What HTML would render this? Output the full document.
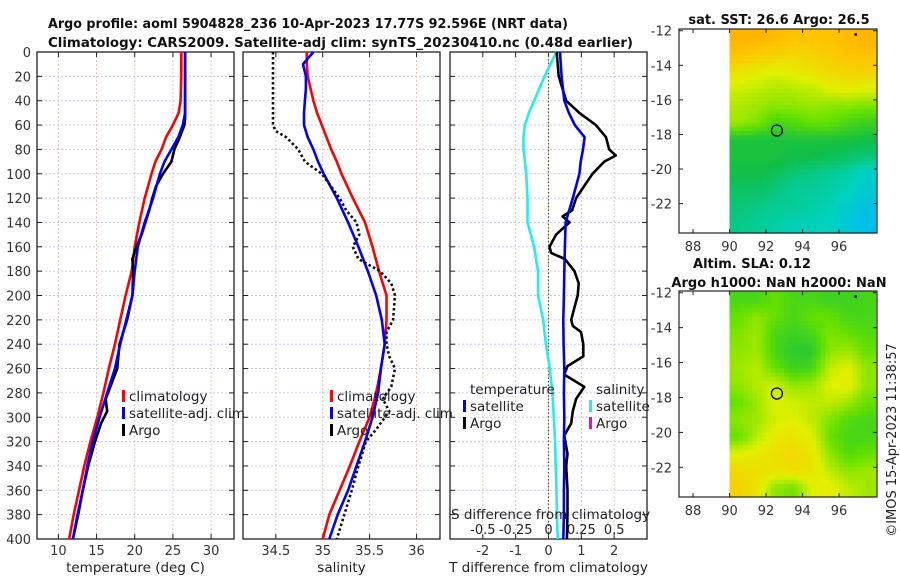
<!DOCTYPE html>
<html><head><meta charset="utf-8"><style>
html,body{margin:0;padding:0;background:#fff;}
svg{display:block;font-family:"DejaVu Sans","Liberation Sans",sans-serif;}
</style></head><body>
<svg id="chart" width="900" height="580" viewBox="0 0 900 580" xmlns="http://www.w3.org/2000/svg">
<text x="48" y="28" font-size="13.5" font-weight="bold" fill="#111" textLength="520" lengthAdjust="spacingAndGlyphs">Argo profile: aoml 5904828_236 10-Apr-2023 17.77S 92.596E (NRT data)</text>
<text x="48" y="47" font-size="13.5" font-weight="bold" fill="#111" textLength="585" lengthAdjust="spacingAndGlyphs">Climatology: CARS2009. Satellite-adj clim: synTS_20230410.nc (0.48d earlier)</text>
<g id="plots"></g>
<text x="779" y="24" font-size="13" font-weight="bold" text-anchor="middle" fill="#111">sat. SST: 26.6 Argo: 26.5</text>
<text x="752" y="268" font-size="13" font-weight="bold" text-anchor="middle" fill="#111">Altim. SLA: 0.12</text>
<text x="779" y="287" font-size="13" font-weight="bold" text-anchor="middle" fill="#111">Argo h1000: NaN h2000: NaN</text>
<text transform="translate(896,440) rotate(-90)" font-size="13" text-anchor="middle" fill="#222">©IMOS 15-Apr-2023 11:38:57</text>
</svg>
<script>
// ---- data ----
const depths = [0,10,20,30,40,50,60,70,80,90,100,120,140,160,180,200,220,240,260,280,300,320,340,360,380,400];
const tempClim = [26.1,26.1,26.1,26.05,26.0,25.75,25.0,24.1,23.5,22.7,22.2,21.3,20.6,20.0,19.6,18.8,18.1,17.4,16.6,15.9,15.1,14.2,13.4,12.7,12.0,11.4];
const tempSat  = [26.6,26.6,26.6,26.6,26.6,26.6,26.3,25.7,24.8,23.9,23.3,22.4,21.3,20.4,20.0,19.7,18.9,18.1,17.4,16.4,15.4,14.5,13.8,13.2,12.5,11.9];
const argoDepths = [0,10,20,30,40,50,55,60,70,80,90,100,110,120,130,140,150,160,170,180,200,220,240,260,275,285,295,305,320,340,360,380,400];
const tempArgo = [26.6,26.6,26.6,26.6,26.6,26.6,26.6,26.5,25.9,25.2,24.8,23.7,22.8,22.3,21.9,21.4,20.9,20.2,19.7,19.8,19.7,19.0,18.0,17.7,16.8,16.2,16.4,15.6,14.8,13.9,13.2,12.6,11.9];
const salClim = [34.83,34.83,34.84,34.87,34.90,34.94,34.99,35.04,35.09,35.15,35.20,35.32,35.45,35.53,35.60,35.68,35.68,35.66,35.62,35.57,35.50,35.39,35.29,35.18,35.07,35.00];
const salSat  = [34.90,34.79,34.82,34.82,34.81,34.80,34.80,34.84,34.90,34.95,35.01,35.15,35.27,35.38,35.48,35.57,35.63,35.66,35.62,35.59,35.53,35.45,35.36,35.27,35.16,35.07];
const salArgoDepths = [0,20,40,60,65,70,80,90,100,120,130,140,150,160,170,180,190,200,220,230,240,250,260,275,285,295,310,320,340,360,380,400];
const salArgo = [34.47,34.47,34.47,34.47,34.50,34.61,34.74,34.81,34.99,35.18,35.25,35.36,35.39,35.32,35.38,35.61,35.73,35.77,35.75,35.68,35.68,35.71,35.77,35.73,35.64,35.71,35.57,35.46,35.38,35.31,35.23,35.15];
const diffDepths = [0,20,40,50,60,70,80,90,100,120,140,160,180,200,220,240,260,280,300,320,340,360,380,400];
const tDiffSat = [0.35,0.40,0.48,0.62,0.80,1.10,1.05,0.98,0.94,0.74,0.52,0.50,0.48,0.47,0.45,0.46,0.48,0.47,0.48,0.47,0.48,0.47,0.47,0.45];
const sDiffSat = [0.06,-0.03,-0.11,-0.15,-0.18,-0.19,-0.19,-0.18,-0.17,-0.16,-0.16,-0.11,-0.08,-0.08,-0.04,-0.02,0.01,0.03,0.04,0.05,0.055,0.06,0.065,0.07];
const argoDiffDepths = [0,20,40,50,60,70,80,85,90,100,110,120,130,135,140,150,160,165,170,180,190,200,210,220,225,230,240,250,258,265,275,285,295,305,315,330,340,360,380,400];
const tDiffArgo = [0.25,0.31,0.54,0.94,1.44,1.75,1.85,2.05,1.70,1.34,1.09,0.84,0.72,0.43,0.64,0.23,0.03,0.08,0.50,0.79,0.92,0.89,0.79,0.69,0.74,0.99,1.06,1.06,0.58,0.48,1.09,0.84,0.74,0.69,0.48,0.58,0.54,0.58,0.58,0.56];
const depthTicks = [0,20,40,60,80,100,120,140,160,180,200,220,240,260,280,300,320,340,360,380,400];
const tempTicks = [10,15,20,25,30];
const salTicks = [34.5,35,35.5,36];
const tDiffTicks = [-2,-1,0,1,2];
const sDiffTicks = [-0.5,-0.25,0,0.25,0.5];
const sDiffTickLabels = ["-0.5","-0.25","0","0.25","0.5"];
const mapLonTicks = [88,90,92,94,96];
const mapLatTicks = [-12,-14,-16,-18,-20,-22];
const argoLon = 92.596, argoLat = -17.77;
const sstGrid = [
[0.90,0.90,0.88,0.85,0.85,0.85,0.88,0.90],
[0.85,0.82,0.80,0.78,0.80,0.82,0.85,0.85],
[0.75,0.72,0.70,0.72,0.75,0.78,0.80,0.80],
[0.68,0.66,0.64,0.65,0.66,0.70,0.72,0.70],
[0.64,0.62,0.60,0.60,0.62,0.60,0.60,0.58],
[0.62,0.58,0.50,0.52,0.55,0.55,0.50,0.48],
[0.42,0.42,0.42,0.42,0.42,0.42,0.42,0.40],
[0.42,0.42,0.42,0.40,0.40,0.38,0.36,0.34],
[0.40,0.40,0.38,0.34,0.32,0.30,0.28,0.22],
[0.36,0.36,0.34,0.30,0.30,0.28,0.26,0.18],
[0.34,0.32,0.30,0.30,0.28,0.26,0.20,0.10],
[0.32,0.30,0.28,0.26,0.26,0.24,0.16,0.08]];
const slaGrid = [
[0.50,0.50,0.55,0.50,0.50,0.48,0.48,0.50],
[0.55,0.60,0.55,0.50,0.55,0.55,0.50,0.50],
[0.58,0.62,0.50,0.48,0.50,0.58,0.55,0.52],
[0.60,0.62,0.50,0.45,0.45,0.60,0.62,0.55],
[0.62,0.65,0.55,0.48,0.50,0.66,0.70,0.60],
[0.60,0.65,0.68,0.60,0.62,0.70,0.72,0.60],
[0.55,0.62,0.70,0.68,0.66,0.66,0.62,0.55],
[0.60,0.62,0.68,0.70,0.66,0.58,0.52,0.50],
[0.55,0.65,0.72,0.74,0.70,0.55,0.50,0.50],
[0.70,0.72,0.76,0.78,0.74,0.60,0.52,0.55],
[0.78,0.76,0.74,0.76,0.74,0.66,0.60,0.62],
[0.80,0.74,0.60,0.56,0.70,0.72,0.66,0.62]];

// ---- helpers ----
const NS = "http://www.w3.org/2000/svg";
const root = document.getElementById('plots');
function mk(tag, attrs, parent){const e=document.createElementNS(NS,tag);for(const k in attrs)e.setAttribute(k,attrs[k]);(parent||root).appendChild(e);return e;}
const top0=52, bot0=539;
const yD = d => top0 + (d/400)*(bot0-top0);
function lin(d0,d1,r0,r1){return v=>r0+(v-d0)/(d1-d0)*(r1-r0);}

function panel(name,x0,x1,xScale,xticks,xlabels,xtitle,showY){
  const g=mk('g',{});
  
  
  depthTicks.forEach(d=>{ if(d>0&&d<400){const l=mk('line',{x1:x0,x2:x1,y1:yD(d),y2:yD(d),stroke:'#c9cbe8','stroke-width':1,'stroke-dasharray':'2 2'},g);
     }
    mk('line',{x1:x0,x2:x0+5,y1:yD(d),y2:yD(d),stroke:'#222'},g);
    mk('line',{x1:x1-5,x2:x1,y1:yD(d),y2:yD(d),stroke:'#222'},g);
    if(showY){const t=mk('text',{x:x0-6,y:yD(d)+5,'font-size':13,'text-anchor':'end',fill:'#333'},g);t.textContent=d;
       }
  });
  xticks.forEach((v,i)=>{const x=xScale(v);
    const l=mk('line',{x1:x,x2:x,y1:top0,y2:bot0,stroke:'#d8c9c0','stroke-width':1,'stroke-dasharray':'2 2'},g);
     
    mk('line',{x1:x,x2:x,y1:bot0,y2:bot0-5,stroke:'#222'},g);
    mk('line',{x1:x,x2:x,y1:top0,y2:top0+5,stroke:'#222'},g);
    const t=mk('text',{x:x,y:555,'font-size':13,'text-anchor':'middle',fill:'#333'},g);t.textContent=xlabels[i];
     
  });
  const b=mk('rect',{x:x0,y:top0,width:x1-x0,height:bot0-top0,fill:'none',stroke:'#222','stroke-width':1.3},g);
   
  const tt=mk('text',{x:(x0+x1)/2,y:572,'font-size':13.5,'text-anchor':'middle',fill:'#222'},g);tt.textContent=xtitle;
   
  return g;
}
function series(g,name,ds,vs,xs,color,dash){
  const pts=ds.map((d,i)=>xs(vs[i]).toFixed(1)+','+yD(d).toFixed(1)).join(' ');
  const p=mk('polyline',{points:pts,fill:'none',stroke:color,'stroke-width':2.6,'stroke-linejoin':'round'},g);
  if(dash){p.setAttribute('stroke-dasharray',dash);}
  
  
}
function legend(g,x,y,items){
  items.forEach((it,i)=>{
    const yy=y+i*17;
    if(it[1]){const r=mk('rect',{x:x,y:yy-11,width:3,height:12,fill:it[1]},g);
       }
    const t=mk('text',{x:x+7,y:yy,'font-size':13.5,fill:'#222'},g);t.textContent=it[0];
     
  });
}

// Panel 1: temperature
const xT=lin(7.2,33,37,234);
const g1=panel('temperature',37,234,xT,tempTicks,tempTicks.map(String),'temperature (deg C)',true);
series(g1,'temp-climatology-line',depths,tempClim,xT,'#ff0000');
series(g1,'temp-argo-line',argoDepths,tempArgo,xT,'#000000');
series(g1,'temp-satellite-line',depths,tempSat,xT,'#0000ff');
legend(g1,122,401,[['climatology','#ff0000'],['satellite-adj. clim','#0000ff'],['Argo','#000']]);

// Panel 2: salinity
const xS=lin(34.15,36.25,243,440);
const g2=panel('salinity',243,440,xS,salTicks,['34.5','35','35.5','36'],'salinity',false);
series(g2,'sal-climatology-line',depths,salClim,xS,'#ff0000');
series(g2,'sal-satellite-line',depths,salSat,xS,'#0000ff');
series(g2,'sal-argo-line',salArgoDepths,salArgo,xS,'#111',"2.5 2.5");
legend(g2,330,401,[['climatology','#ff0000'],['satellite-adj. clim','#0000ff'],['Argo','#000']]);

// Panel 3: differences
const xTD=lin(-3,3,450,647);
const xSD=lin(-0.75,0.75,450,647);
const g3=panel('difference',450,647,xTD,tDiffTicks,tDiffTicks.map(String),'T difference from climatology',false);
const zl=mk('line',{x1:xTD(0),x2:xTD(0),y1:top0,y2:bot0,stroke:'#555533','stroke-width':1.2,'stroke-dasharray':'1.5 2'},g3);
 
series(g3,'s-diff-satellite-line',diffDepths,sDiffSat,xSD,'#22eeee');
series(g3,'t-diff-argo-line',argoDiffDepths,tDiffArgo,xTD,'#000');
series(g3,'t-diff-satellite-line',diffDepths,tDiffSat,xTD,'#0000ee');
legend(g3,463,394,[['temperature',null],['satellite','#0000ff'],['Argo','#000']]);
legend(g3,589,394,[['salinity',null],['satellite','#22eeee'],['Argo','#ff00cc']]);
const sdt=mk('text',{x:451,y:519,'font-size':13.5,fill:'#222'},g3);sdt.textContent='S difference from climatology';
 
sDiffTicks.forEach((v,i)=>{const t=mk('text',{x:xSD(v),y:534,'font-size':13,'text-anchor':'middle',fill:'#222'},g3);t.textContent=sDiffTickLabels[i];
   });

// Maps
const stops=[[0,[0,180,255]],[0.25,[0,210,190]],[0.4,[16,190,70]],[0.55,[100,225,0]],[0.7,[225,240,0]],[0.85,[255,195,0]],[1,[255,150,0]]];
function cmap(v){for(let i=1;i<stops.length;i++){if(v<=stops[i][0]){const a=stops[i-1],b=stops[i],t=(v-a[0])/(b[0]-a[0]);
  return 'rgb('+a[1].map((c,k)=>Math.round(c+(b[1][k]-c)*t)).join(',')+')';}}return 'rgb(255,150,0)';}
function sample(grid,fr,fc){ // bilinear sample in cell-center coordinates
  const nr=grid.length,nc=grid[0].length;
  let r=Math.min(Math.max(fr-0.5,0),nr-1), c=Math.min(Math.max(fc-0.5,0),nc-1);
  const r0=Math.floor(r),c0=Math.floor(c),r1=Math.min(r0+1,nr-1),c1=Math.min(c0+1,nc-1),tr=r-r0,tc=c-c0;
  return (grid[r0][c0]*(1-tc)+grid[r0][c1]*tc)*(1-tr)+(grid[r1][c0]*(1-tc)+grid[r1][c1]*tc)*tr;
}
function map(name,yTop,yBot,grid){
  const g=mk('g',{});
  
  
  const xL=lin(87.23,98.08,679,877);
  const latTop=-11.9, latBot=-23.7;
  const yL=lin(latTop,latBot,yTop,yBot);
  const nr=grid.length, nc=grid[0].length, lon0=90, lon1=98, sub=4;
  const dLat=(latTop-latBot)/(nr*sub), dLon=(lon1-lon0)/(nc*sub);
  for(let r=0;r<nr*sub;r++)for(let c=0;c<nc*sub;c++){
    const v=sample(grid,(r+0.5)/sub,(c+0.5)/sub);
    const x=xL(lon0+c*dLon), y=yL(latTop-r*dLat);
    const cell=mk('rect',{x:x.toFixed(1),y:y.toFixed(1),width:(xL(lon0+(c+1)*dLon)-x+0.6).toFixed(1),height:(yL(latTop-(r+1)*dLat)-y+0.6).toFixed(1),fill:cmap(v)},g);
    
    
  }
  mapLatTicks.forEach(lat=>{const y=yL(lat);
    mk('line',{x1:679,x2:683,y1:y,y2:y,stroke:'#222'},g);mk('line',{x1:873,x2:877,y1:y,y2:y,stroke:'#222'},g);
    const t=mk('text',{x:672,y:y+5,'font-size':13,'text-anchor':'end',fill:'#333'},g);t.textContent=lat;
     });
  mapLonTicks.forEach(lon=>{const x=xL(lon);
    mk('line',{x1:x,x2:x,y1:yBot,y2:yBot-4,stroke:'#222'},g);mk('line',{x1:x,x2:x,y1:yTop,y2:yTop+4,stroke:'#222'},g);
    const t=mk('text',{x:x,y:yBot+18,'font-size':13,'text-anchor':'middle',fill:'#333'},g);t.textContent=lon;
     });
  const b=mk('rect',{x:679,y:yTop,width:198,height:yBot-yTop,fill:'none',stroke:'#222','stroke-width':1.2},g);
   
  const c=mk('circle',{cx:xL(argoLon),cy:yL(argoLat),r:5.5,fill:'none',stroke:'#000','stroke-width':1.3},g);
   
  mk('rect',{x:xL(96.9)-1,y:yL(-12.2)-1,width:2.5,height:2.5,fill:'#000'},g);
}
map('sst-map',29,233,sstGrid);
map('sla-map',291,497,slaGrid);
</script>
</body></html>
